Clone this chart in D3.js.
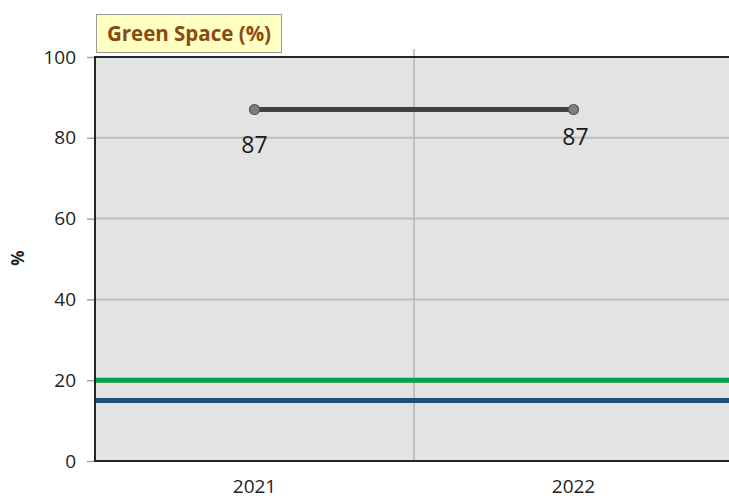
<!DOCTYPE html>
<html>
<head>
<meta charset="utf-8">
<script src="https://cdn.jsdelivr.net/npm/d3@7"></script>
<style>
  body { margin: 0; background: #fff; overflow: hidden; }
  svg { display: block; font-family: "Open Sans", "Noto Sans", sans-serif; }
</style>
</head>
<body>
<svg id="chart"></svg>
<script>
// data
const years = ["2021", "2022"];
const greenSpace = [87, 87];
const yTicks = [0, 20, 40, 60, 80, 100];
const targetLines = [
  { name: "target", value: 20, color: "#00a14b" },
  { name: "average", value: 15, color: "#1f4e79" }
];
const titleText = "Green Space (%)";
const yLabel = "%";

const width = 729, height = 499;
const margin = { top: 57, right: -4, bottom: 38, left: 95 };
const drawWidth = width - margin.left - margin.right;
const drawHeight = height - margin.top - margin.bottom;

const svg = d3.select("#chart").attr("width", width).attr("height", height);

const x = d3.scaleBand().domain(years).range([margin.left, margin.left + drawWidth]);
const y = d3.scaleLinear().domain([0, 100]).range([margin.top + drawHeight, margin.top]);

// plot background
svg.append("rect")
  .attr("x", margin.left).attr("y", y(100))
  .attr("width", drawWidth).attr("height", y(0) - y(100))
  .attr("fill", "#e3e3e3");

// horizontal gridlines
svg.append("g").selectAll("line")
  .data(yTicks.filter(d => d > 0 && d < 100))
  .enter().append("line")
  .attr("x1", margin.left).attr("x2", margin.left + drawWidth)
  .attr("y1", d => y(d)).attr("y2", d => y(d))
  .attr("stroke", "#bdbdbd").attr("stroke-width", 2);

// vertical gridline between the categories
svg.append("line")
  .attr("x1", x("2022")).attr("x2", x("2022"))
  .attr("y1", y(100) - 8).attr("y2", y(0))
  .attr("stroke", "#b4b4b4").attr("stroke-width", 1.5);

// y axis
const yAxis = d3.axisLeft(y).tickValues(yTicks).tickSize(8).tickPadding(11);
const gy = svg.append("g")
  .attr("transform", "translate(" + margin.left + ",0)")
  .call(yAxis);
gy.select(".domain").remove();
gy.selectAll(".tick line").attr("stroke", "#a6a6a6").attr("stroke-width", 1.5);
gy.selectAll(".tick text")
  .attr("font-size", 19).attr("fill", "#222")
  .attr("font-family", "'Open Sans', sans-serif");

// x axis labels
const xAxis = d3.axisBottom(x).tickSize(0).tickPadding(19);
const gx = svg.append("g")
  .attr("transform", "translate(0," + y(0) + ")")
  .call(xAxis);
gx.select(".domain").remove();
gx.selectAll(".tick text")
  .attr("font-size", 19).attr("fill", "#222")
  .attr("font-family", "'Open Sans', sans-serif");

// reference lines
svg.append("g").selectAll("line")
  .data(targetLines)
  .enter().append("line")
  .attr("x1", margin.left).attr("x2", margin.left + drawWidth)
  .attr("y1", d => y(d.value)).attr("y2", d => y(d.value))
  .attr("stroke", d => d.color).attr("stroke-width", 5);

// plot border (left, top, bottom)
svg.append("path")
  .attr("d", "M" + (margin.left + drawWidth) + "," + y(100) + "H" + margin.left +
        "V" + y(0) + "H" + (margin.left + drawWidth))
  .attr("fill", "none").attr("stroke", "#262626").attr("stroke-width", 2);

// series line
const pts = years.map((yr, i) => ({ yr: yr, v: greenSpace[i] }));
const line = d3.line()
  .x(d => x(d.yr) + x.bandwidth() / 2)
  .y(d => y(d.v));
svg.append("path")
  .datum(pts)
  .attr("d", line)
  .attr("fill", "none").attr("stroke", "#404040").attr("stroke-width", 5);
svg.append("g").selectAll("circle")
  .data(pts)
  .enter().append("circle")
  .attr("cx", d => x(d.yr) + x.bandwidth() / 2)
  .attr("cy", d => y(d.v))
  .attr("r", 5)
  .attr("fill", "#7f7f7f").attr("stroke", "#555").attr("stroke-width", 1.2);

// data labels (Excel put them at slightly different heights)
const labelDy = [43, 35];
svg.append("g").selectAll("text")
  .data(pts)
  .enter().append("text")
  .attr("x", (d, i) => x(d.yr) + x.bandwidth() / 2 + (i === 1 ? 2 : 0))
  .attr("y", (d, i) => y(d.v) + labelDy[i])
  .attr("text-anchor", "middle")
  .attr("font-size", 23).attr("fill", "#1a1a1a")
  .text(d => d.v);

// y axis title
svg.append("text")
  .attr("transform", "translate(24,258) rotate(-90)")
  .attr("text-anchor", "middle")
  .attr("font-size", 17).attr("font-weight", "bold").attr("fill", "#222")
  .text(yLabel);

// chart title box
svg.append("rect")
  .attr("x", 96.5).attr("y", 14.5).attr("width", 185).attr("height", 38)
  .attr("fill", "#ffffc2").attr("stroke", "#9a9a9a").attr("stroke-width", 1);
svg.append("text")
  .attr("x", 189).attr("y", 41)
  .attr("text-anchor", "middle")
  .attr("font-size", 20.5).attr("font-weight", "bold").attr("fill", "#8a4a12")
  .text(titleText);
</script>
</body>
</html>
